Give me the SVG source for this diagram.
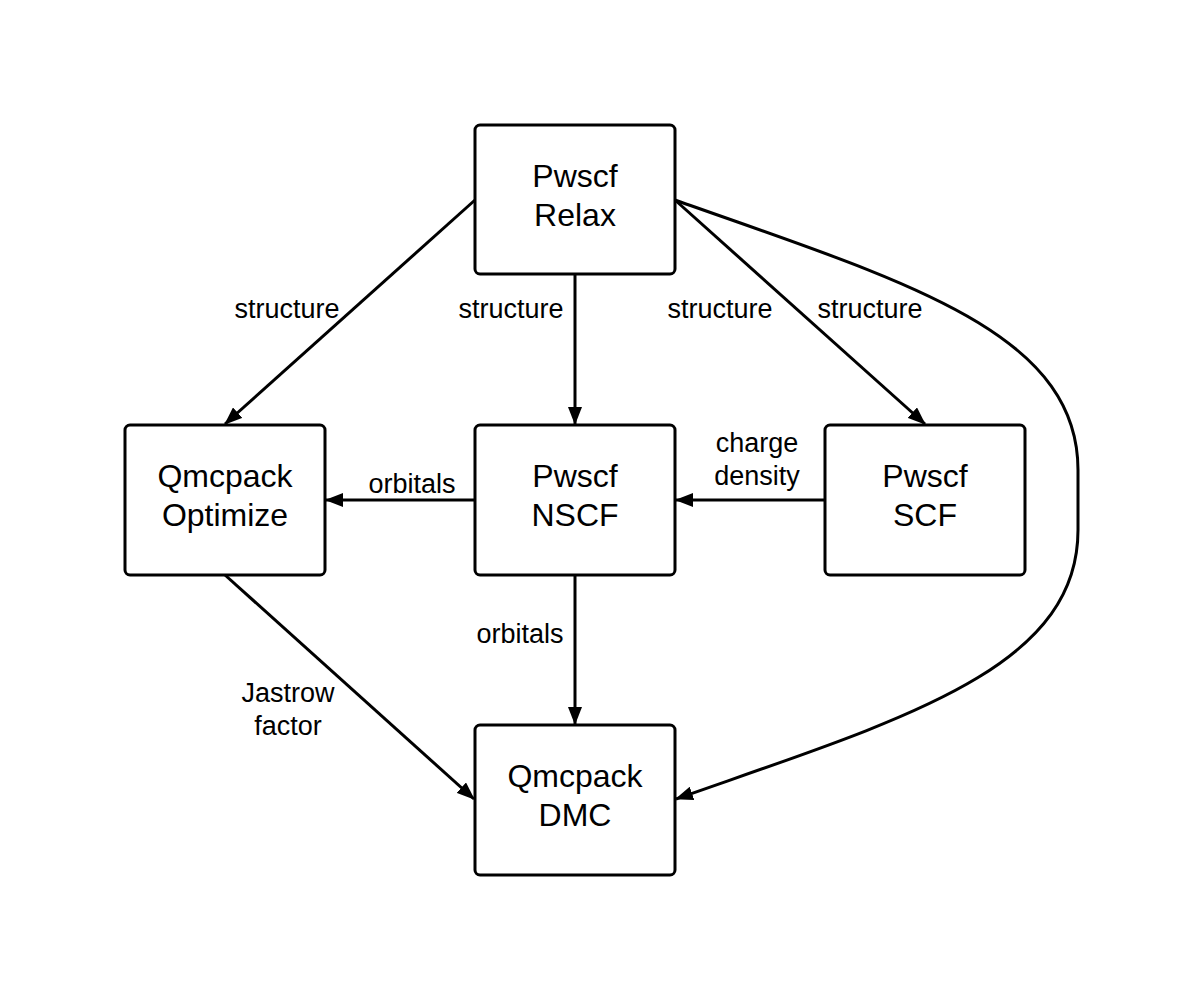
<svg xmlns="http://www.w3.org/2000/svg" width="1198" height="998" viewBox="0 0 1198 998">
<style>
.box{fill:#fff;stroke:#000;stroke-width:3}
.nt{font-family:"Liberation Sans",Arial,sans-serif;font-size:32px;text-anchor:middle;fill:#000}
.lt{font-family:"Liberation Sans",Arial,sans-serif;font-size:27px;text-anchor:middle;fill:#000}
.edge{fill:none;stroke:#000;stroke-width:3}
</style>
<defs>
<marker id="arr" viewBox="0 0 18 14" refX="17" refY="7" markerWidth="18" markerHeight="14" markerUnits="userSpaceOnUse" orient="auto">
<path d="M0,0 L18,7 L0,14 Z" fill="#000"/>
</marker>
</defs>
<rect width="1198" height="998" fill="#fff"/>
<g id="connectors">
<path class="edge" d="M475,200 L225,424" marker-end="url(#arr)"/>
<path class="edge" d="M575,275 L575,424" marker-end="url(#arr)"/>
<path class="edge" d="M675,200 L925,424" marker-end="url(#arr)"/>
<path class="edge" d="M675,200 C900,280 1078,330 1078,470 L1078,530 C1078,670 900,720 676,799" marker-end="url(#arr)"/>
<path class="edge" d="M825,500 L676,500" marker-end="url(#arr)"/>
<path class="edge" d="M475,500 L326,500" marker-end="url(#arr)"/>
<path class="edge" d="M575,575 L575,724" marker-end="url(#arr)"/>
<path class="edge" d="M225,575 L474,799" marker-end="url(#arr)"/>
<text class="lt" x="287" y="318">structure</text>
<text class="lt" x="511" y="318">structure</text>
<text class="lt" x="720" y="318">structure</text>
<text class="lt" x="870" y="318">structure</text>
<text class="lt" x="412" y="493">orbitals</text>
<text class="lt" x="757" y="452">charge</text>
<text class="lt" x="757" y="485">density</text>
<text class="lt" x="520" y="643">orbitals</text>
<text class="lt" x="288" y="702">Jastrow</text>
<text class="lt" x="288" y="735">factor</text>
</g>
<g id="relax">
<rect class="box" x="475" y="125" width="200" height="149" rx="5"/>
<text class="nt" x="575" y="187">Pwscf</text>
<text class="nt" x="575" y="226">Relax</text>
</g>
<g id="optimize">
<rect class="box" x="125" y="425" width="200" height="150" rx="5"/>
<text class="nt" x="225" y="487">Qmcpack</text>
<text class="nt" x="225" y="526">Optimize</text>
</g>
<g id="nscf">
<rect class="box" x="475" y="425" width="200" height="150" rx="5"/>
<text class="nt" x="575" y="487">Pwscf</text>
<text class="nt" x="575" y="526">NSCF</text>
</g>
<g id="scf">
<rect class="box" x="825" y="425" width="200" height="150" rx="5"/>
<text class="nt" x="925" y="487">Pwscf</text>
<text class="nt" x="925" y="526">SCF</text>
</g>
<g id="dmc">
<rect class="box" x="475" y="725" width="200" height="150" rx="5"/>
<text class="nt" x="575" y="787">Qmcpack</text>
<text class="nt" x="575" y="826">DMC</text>
</g>
</svg>
